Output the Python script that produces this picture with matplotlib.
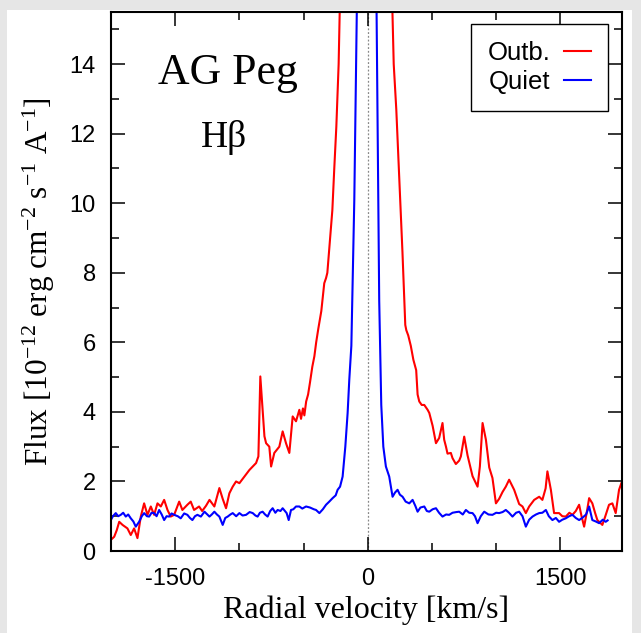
import numpy as np
import matplotlib
matplotlib.use("Agg")
import matplotlib.pyplot as plt
from matplotlib.ticker import MultipleLocator, FixedLocator
from matplotlib.patches import Rectangle

plt.rcParams['font.family'] = ['Liberation Sans', 'DejaVu Sans']
plt.rcParams['mathtext.fontset'] = 'custom'
plt.rcParams['mathtext.rm'] = 'Liberation Serif'
plt.rcParams['mathtext.it'] = 'Liberation Serif'
plt.rcParams['axes.unicode_minus'] = False

# AG Peg, H-beta profile during outburst (red) and quiescence (blue)
vel_outb = [-2001, -1975, -1955, -1936, -1910, -1872, -1846, -1820, -1794, -1768,
            -1742, -1716, -1690, -1664, -1638, -1612, -1586, -1560, -1535, -1508,
            -1469, -1444, -1405, -1379, -1353, -1314, -1290, -1260, -1233, -1195,
            -1156, -1130, -1104, -1078, -1052, -1026, -1000, -961, -922, -896,
            -870, -852, -837, -819, -805, -792, -767, -753, -728, -689,
            -663, -637, -611, -585, -559, -533, -520, -505, -494, -480,
            -465, -450, -432, -416, -402, -385, -362, -345, -339, -325,
            -315, -300, -285, -276, -261, -245, -235, -227, -217, -150,
            -13, 100, 190, 202, 222, 250, 270, 292, 300, 315,
            335, 355, 377, 388, 401, 420, 440, 466, 479, 505,
            531, 556, 582, 595, 609, 621, 647, 660, 686, 712,
            725, 751, 777, 816, 855, 873, 894, 920, 946, 971,
            998, 1023, 1050, 1075, 1101, 1140, 1179, 1205, 1231, 1257,
            1296, 1335, 1360, 1385, 1399, 1426, 1451, 1490, 1515, 1542,
            1570, 1594, 1620, 1646, 1665, 1685, 1705, 1724, 1749, 1770,
            1788, 1827, 1850, 1879, 1905, 1931, 1957, 1975]
flux_outb = [0.32, 0.41, 0.60, 0.84, 0.75, 0.65, 0.46, 0.65, 0.37, 0.99,
             1.37, 1.04, 1.28, 1.04, 1.37, 1.28, 1.47, 1.18, 0.99, 1.04,
             1.42, 1.18, 1.33, 1.42, 1.18, 1.28, 1.15, 1.30, 1.47, 1.28,
             1.81, 1.50, 1.23, 1.66, 1.85, 2.00, 1.95, 2.14, 2.33, 2.43,
             2.53, 2.72, 5.02, 4.06, 3.30, 3.10, 3.00, 2.43, 2.82, 3.00,
             3.44, 3.10, 2.82, 3.87, 3.73, 4.06, 3.80, 4.10, 3.90, 4.30,
             4.50, 4.85, 5.30, 5.60, 6.00, 6.40, 6.90, 7.50, 7.70, 7.85,
             8.00, 8.70, 9.40, 9.80, 11.0, 12.2, 13.2, 14.0, 15.8, 30.0,
             60.0, 30.0, 15.8, 14.0, 12.7, 10.3, 8.60, 6.50, 6.35, 6.20,
             5.90, 5.50, 5.20, 4.50, 4.30, 4.20, 4.20, 4.06, 3.97, 3.60,
             3.10, 3.25, 3.68, 3.20, 3.00, 2.80, 2.82, 2.67, 2.50, 2.60,
             2.72, 3.29, 2.75, 2.15, 1.85, 2.43, 3.68, 3.20, 2.40, 2.10,
             1.37, 1.50, 1.70, 1.85, 2.05, 1.76, 1.35, 1.28, 1.09, 1.28,
             1.47, 1.56, 1.47, 1.80, 2.29, 1.76, 1.09, 1.09, 1.00, 0.99,
             1.10, 1.04, 1.15, 1.33, 1.00, 0.70, 1.10, 1.52, 1.37, 1.10,
             0.89, 0.75, 1.00, 1.33, 1.37, 1.09, 1.76, 1.95]

vel_quiet = [-2001, -1985, -1963, -1944, -1924, -1905, -1885, -1866, -1846, -1826,
             -1807, -1781, -1760, -1742, -1720, -1703, -1684, -1664, -1645, -1625,
             -1605, -1586, -1567, -1547, -1528, -1508, -1480, -1457, -1430, -1405,
             -1385, -1366, -1346, -1327, -1300, -1272, -1250, -1233, -1215, -1195,
             -1175, -1156, -1130, -1110, -1091, -1070, -1052, -1025, -1000, -975,
             -948, -920, -896, -875, -858, -840, -819, -800, -780, -760,
             -741, -720, -702, -680, -663, -645, -632, -616, -598, -580,
             -559, -533, -510, -481, -450, -420, -403, -377, -350, -325,
             -300, -274, -250, -235, -216, -196, -175, -157, -144, -128,
             -105, -82, -9, 66, 89, 105, 121, 141, 167, 193,
             212, 232, 250, 271, 295, 323, 349, 370, 388, 410,
             440, 460, 479, 505, 531, 555, 582, 610, 634, 660,
             690, 712, 740, 764, 790, 816, 835, 855, 880, 907,
             940, 971, 1000, 1023, 1050, 1075, 1100, 1127, 1155, 1179,
             1205, 1231, 1257, 1283, 1310, 1335, 1360, 1387, 1410, 1438,
             1465, 1490, 1515, 1542, 1568, 1594, 1620, 1646, 1670, 1700,
             1724, 1749, 1775, 1802, 1830, 1853, 1868]
flux_quiet = [0.89, 1.00, 1.09, 1.00, 1.04, 1.10, 0.99, 1.05, 0.94, 0.85,
              0.70, 0.84, 1.00, 1.09, 1.00, 0.99, 1.10, 1.09, 1.00, 1.18,
              1.05, 0.89, 1.00, 0.99, 1.08, 1.04, 1.00, 0.94, 1.08, 1.04,
              0.95, 0.89, 1.00, 1.04, 0.99, 1.13, 1.05, 0.99, 1.05, 1.13,
              1.05, 0.99, 0.75, 0.95, 0.99, 1.05, 1.09, 1.00, 1.09, 1.02,
              1.04, 1.12, 1.09, 1.02, 0.99, 1.10, 1.13, 1.05, 0.99, 1.15,
              1.23, 1.10, 1.18, 1.15, 1.23, 1.15, 1.09, 0.89, 1.18, 1.20,
              1.28, 1.28, 1.22, 1.28, 1.25, 1.20, 1.18, 1.09, 1.20, 1.33,
              1.42, 1.52, 1.60, 1.76, 1.85, 2.14, 3.00, 3.97, 4.93, 5.90,
              10.1, 16.5, 60.0, 16.5, 7.20, 4.20, 3.00, 2.43, 2.14, 1.56,
              1.68, 1.76, 1.62, 1.56, 1.42, 1.37, 1.47, 1.30, 1.13, 1.25,
              1.28, 1.15, 1.13, 1.20, 1.23, 1.10, 0.99, 1.05, 1.04, 1.10,
              1.12, 1.13, 1.05, 1.18, 1.10, 1.09, 1.00, 0.80, 1.00, 1.13,
              1.05, 1.04, 1.10, 1.09, 1.12, 1.18, 1.10, 0.99, 1.10, 1.13,
              1.00, 0.70, 0.90, 0.99, 1.05, 1.09, 1.10, 1.18, 1.00, 0.89,
              0.95, 0.84, 0.90, 0.94, 1.00, 1.04, 0.95, 0.89, 0.95, 1.05,
              1.28, 0.89, 0.85, 0.80, 0.90, 0.84, 0.88]

fig = plt.figure(figsize=(6.41, 6.33), dpi=100, facecolor='#e6e6e6')
# white page area, grey margin at top / left / right
fig.add_artist(Rectangle((7 / 641, 0), 625 / 641, 623 / 633,
                         transform=fig.transFigure, facecolor='white',
                         edgecolor='none', zorder=-10))
ax = fig.add_axes([111 / 641, 82 / 633, 511 / 641, 539 / 633])

ax.plot(vel_outb, flux_outb, color='#ff0000', lw=1.5, label='Outb.')
ax.plot(vel_quiet, flux_quiet, color='#0000ff', lw=1.5, label='Quiet')
ax.axvline(0, color='#888888', lw=0.9, ls=(0, (1.5, 1.5)), zorder=1)

ax.set_xlim(-2000, 1980)
ax.set_ylim(0, 15.5)
ax.xaxis.set_major_locator(FixedLocator([-1500, 0, 1500]))
ax.xaxis.set_minor_locator(MultipleLocator(500))
ax.yaxis.set_major_locator(MultipleLocator(2))
ax.yaxis.set_minor_locator(MultipleLocator(1))
ax.tick_params(which='both', direction='in', top=True, right=True, width=1.1)
ax.tick_params(which='major', length=10, labelsize=17)
ax.tick_params(which='minor', length=6)
ax.tick_params(axis='y', pad=11)
ax.tick_params(axis='x', pad=12)
for s in ax.spines.values():
    s.set_linewidth(1.5)

ax.set_xlabel('Radial velocity [km/s]', family='Liberation Serif', fontsize=23, labelpad=4)
ax.set_ylabel('Flux [10$^{-12}$ erg cm$^{-2}$ s$^{-1}$ A$^{-1}$]',
              family='Liberation Serif', fontsize=22.5, labelpad=9)

ax.text(0.228, 0.867, 'AG Peg', transform=ax.transAxes, ha='center', va='baseline',
        family='Liberation Serif', fontsize=31.5)
ax.text(0.222, 0.75, 'Hβ', transform=ax.transAxes, ha='center', va='baseline',
        family='Liberation Serif', fontsize=27)

leg = ax.legend(loc='upper right', bbox_to_anchor=(608 / 641, 1 - 24 / 633),
                bbox_transform=fig.transFigure, markerfirst=False, fancybox=False,
                edgecolor='black', framealpha=1, fontsize=18.5, handlelength=1.05,
                labelspacing=0.22, borderpad=0.65, handletextpad=0.55, borderaxespad=0)
leg.get_frame().set_linewidth(1.0)

fig.savefig('out.png', dpi=100, facecolor=fig.get_facecolor())
